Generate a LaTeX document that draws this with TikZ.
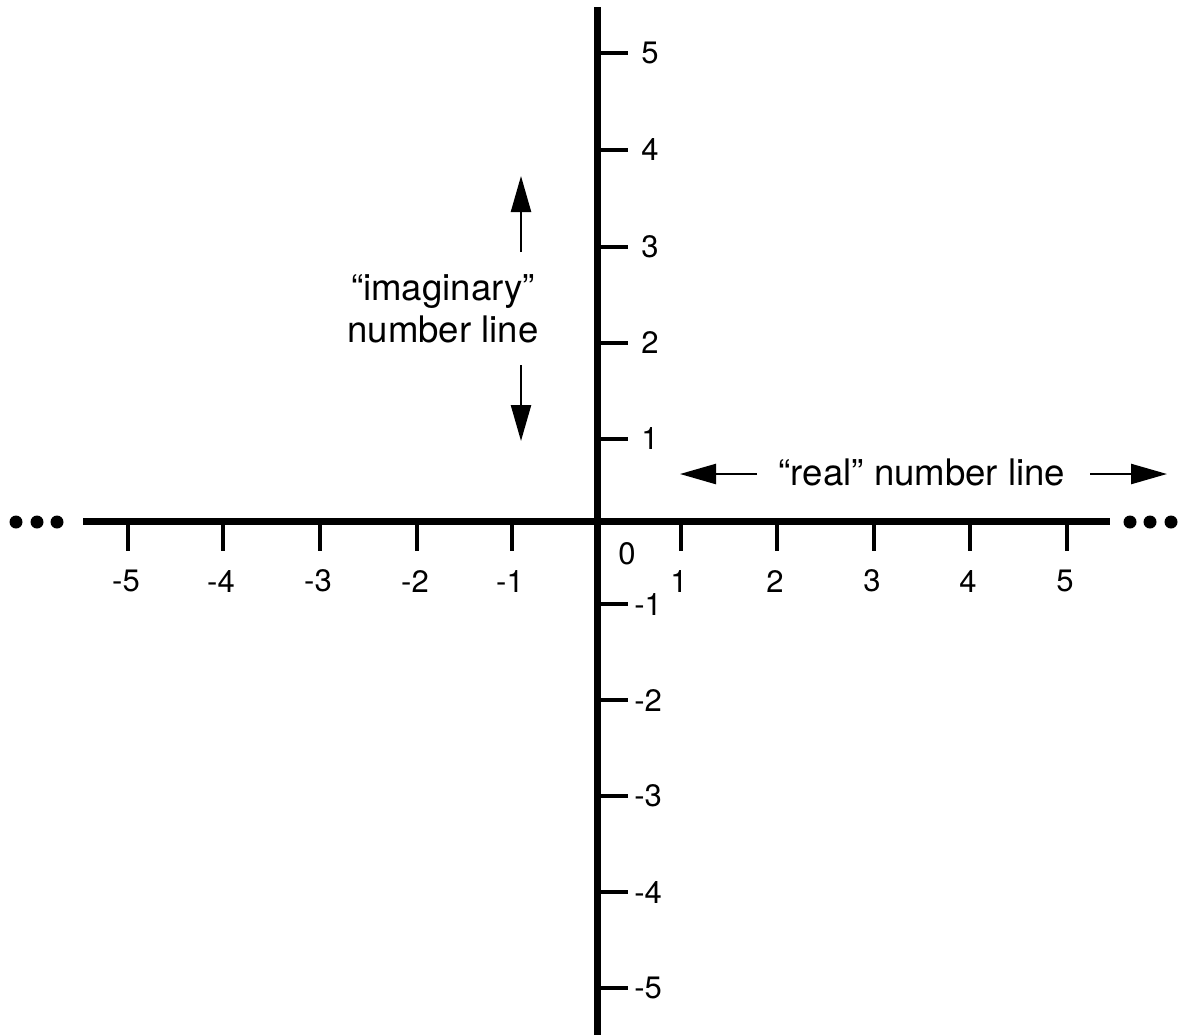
\documentclass[tikz,border=0pt]{standalone}
\usepackage{fontspec}
\setmainfont{TeX Gyre Heros}
\usetikzlibrary{arrows.meta}
\begin{document}
\begin{tikzpicture}[x=0.5pt,y=-0.5pt,
  axis/.style={line width=3.5pt},
  tickmark/.style={line width=2pt},
  numlbl/.style={font=\fontsize{15.5pt}{17pt}\selectfont, inner sep=0pt},
  textlbl/.style={font=\fontsize{18.3pt}{21pt}\selectfont, inner sep=0pt, align=center},
  dirarrow/.style={line width=1.2pt, -{Triangle[length=18pt,width=10pt]}},
  dot/.style={circle, fill=black, inner sep=0pt, minimum size=6.5pt}]
\useasboundingbox (0,0) rectangle (1179,1035);
% axes
\coordinate (xl) at (83,521);
\coordinate (xr) at (1110,521);
\coordinate (yt) at (597,7);
\coordinate (yb) at (597,1035);
\draw[axis] (xl) -- (xr);
\draw[axis] (yt) -- (yb);
% horizontal ticks and labels
\foreach \v/\x in {-5/128,-4/223,-3/320,-2/417,-1/512,1/681,2/777,3/874,4/970,5/1067}{
  \draw[tickmark] (\x,521) -- (\x,551);
  \node[numlbl] (h\v) at (\x-2,581) {\v};
}
% vertical ticks and labels
\foreach \v/\y in {5/53,4/150,3/247,2/343,1/439}{
  \draw[tickmark] (597,\y) -- (628,\y);
  \node[numlbl, anchor=west] (v\v) at (641,\y) {\v};
}
\foreach \v/\y in {-1/604,-2/700,-3/796,-4/892,-5/988}{
  \draw[tickmark] (597,\y) -- (628,\y);
  \node[numlbl, anchor=west] (v\v) at (634,\y) {\v};
}
\node[numlbl] (zero) at (627,554) {0};
% dots
\node[dot] (dl1) at (16,522) {};
\node[dot] (dl2) at (37,522) {};
\node[dot] (dl3) at (57,522) {};
\node[dot] (dr1) at (1130,522) {};
\node[dot] (dr2) at (1150,522) {};
\node[dot] (dr3) at (1171,522) {};
% imaginary label
\node[textlbl] (imag) at (443,309) {“imaginary”\\number line};
\coordinate (iu0) at (521,252);
\coordinate (iu1) at (521,176);
\coordinate (id0) at (521,365);
\coordinate (id1) at (521,441);
\draw[dirarrow] (iu0) -- (iu1);
\draw[dirarrow] (id0) -- (id1);
% real label
\node[textlbl] (real) at (922,472) {“real” number line};
\coordinate (rl0) at (757,474);
\coordinate (rl1) at (680,474);
\coordinate (rr0) at (1090,474);
\coordinate (rr1) at (1167,474);
\draw[dirarrow] (rl0) -- (rl1);
\draw[dirarrow] (rr0) -- (rr1);
\end{tikzpicture}
\end{document}
